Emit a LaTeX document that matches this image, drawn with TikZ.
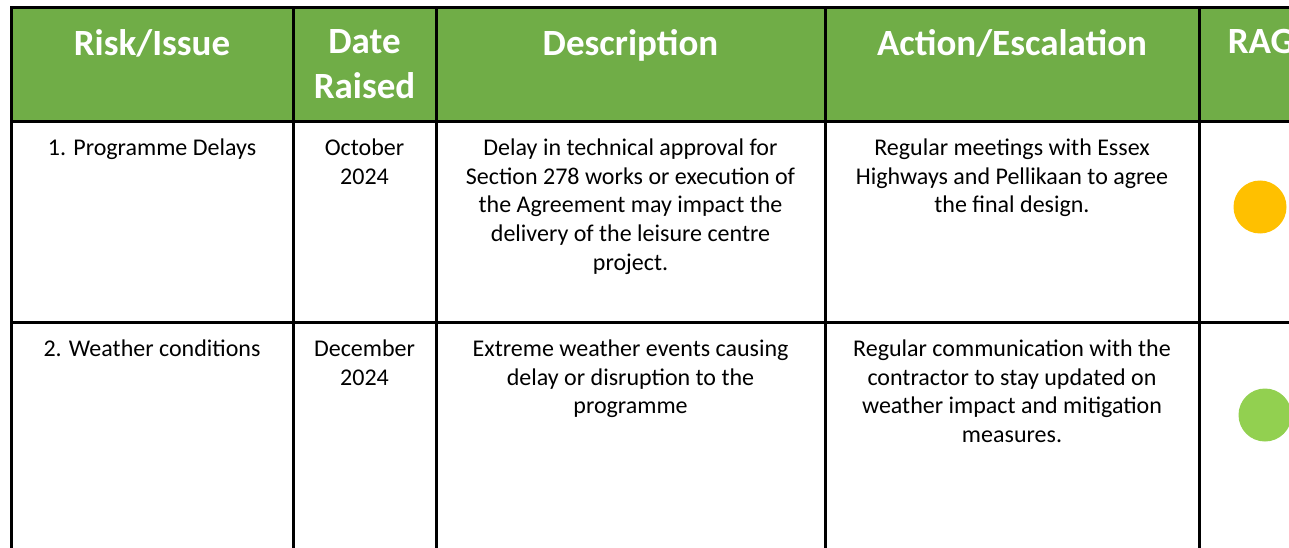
\documentclass[tikz,border=0pt]{standalone}
\usepackage{fontspec}
\setmainfont{Carlito}
\definecolor{hdrgreen}{HTML}{70AD47}
\definecolor{ragamber}{HTML}{FFC000}
\definecolor{raggreen}{HTML}{92D050}
\tikzset{
  hdr/.style={anchor=north, inner sep=0pt, align=center, text=white, font=\bfseries\fontsize{37}{45}\selectfont},
  cell/.style={anchor=north, inner sep=0pt, align=center, font=\fontsize{24}{28.75}\selectfont},
  rag/.style={circle, minimum size=53pt, inner sep=0pt},
  grid/.style={line width=3pt}
}
\begin{document}
\begin{tikzpicture}[x=1pt,y=-1pt]
    \useasboundingbox (0,0) rectangle (1289,548);
    \fill[hdrgreen] (11,8) rectangle (1330,122);
    \draw[grid] (11,560) -- (11,8) -- (1330,8);
    \draw[grid] (11,122) -- (1330,122);
    \draw[grid] (11,322) -- (1330,322);
    \foreach \x in {293,436,825,1199}
        \draw[grid] (\x,8) -- (\x,560);
    \node[hdr] (hrisk) at (152,29.5) {Risk/Issue};
    \node[hdr] (hdate) at (364.5,29.5) {Date\\Raised};
    \node[hdr] (hdesc) at (630.5,29.5) {Description};
    \node[hdr] (hact) at (1012,29.5) {Action/Escalation};
    \node[hdr] (hrag) at (1261,29.5) {RAG};
    \node[cell] (risk1) at (152,138.5) {1. Programme Delays};
    \node[cell] (date1) at (364.5,138.5) {October\\2024};
    \node[cell] (desc1) at (630.5,138.5) {Delay in technical approval for\\Section 278 works or execution of\\the Agreement may impact the\\delivery of the leisure centre\\project.};
    \node[cell] (act1) at (1012,138.5) {Regular meetings with Essex\\Highways and Pellikaan to agree\\the final design.};
    \node[rag, fill=ragamber] (rag1) at (1260,207) {};
    \node[cell] (risk2) at (152,339.5) {2. Weather conditions};
    \node[cell] (date2) at (364.5,339.5) {December\\2024};
    \node[cell] (desc2) at (630.5,339.5) {Extreme weather events causing\\delay or disruption to the\\programme};
    \node[cell] (act2) at (1012,339.5) {Regular communication with the\\contractor to stay updated on\\weather impact and mitigation\\measures.};
    \node[rag, fill=raggreen] (rag2) at (1265,415) {};
\end{tikzpicture}
\end{document}
